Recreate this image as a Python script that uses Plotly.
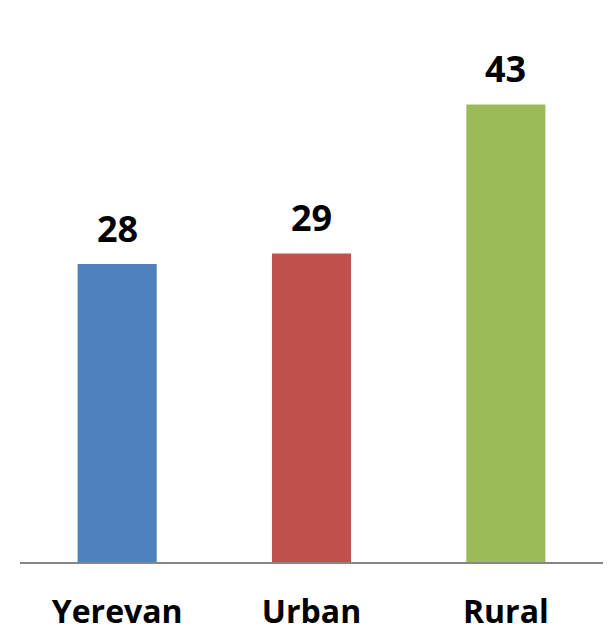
import plotly.graph_objects as go

categories = ["Yerevan", "Urban", "Rural"]
values = [28, 29, 43]
colors = ["#4F81BD", "#C0504D", "#9BBB59"]

FONT = "Open Sans"

fig = go.Figure(
    go.Bar(
        x=categories,
        y=values,
        marker=dict(color=colors, line=dict(width=0)),
        hoverinfo="x+y",
    )
)

# value labels above each bar
for cat, val in zip(categories, values):
    fig.add_annotation(
        x=cat, y=val, text=f"<b>{val}</b>",
        showarrow=False, yanchor="bottom", yshift=9,
        font=dict(family=FONT, size=36, color="#000000"),
    )

fig.update_layout(
    width=614, height=637,
    margin=dict(l=20, r=11, t=30, b=75),
    paper_bgcolor="white", plot_bgcolor="white",
    bargap=0.593,
    showlegend=False,
    xaxis=dict(
        showline=True, linecolor="#868686", linewidth=2,
        showgrid=False, zeroline=False, ticks="",
        tickfont=dict(family=FONT, size=32, color="#000000"),
        ticklabelstandoff=21,
        automargin=False,
    ),
    yaxis=dict(
        range=[0, 50], visible=False, showgrid=False, zeroline=False,
        automargin=False,
    ),
)
fig.update_xaxes(tickvals=categories, ticktext=[f"<b>{c}</b>" for c in categories])

fig.write_html("out.html")
